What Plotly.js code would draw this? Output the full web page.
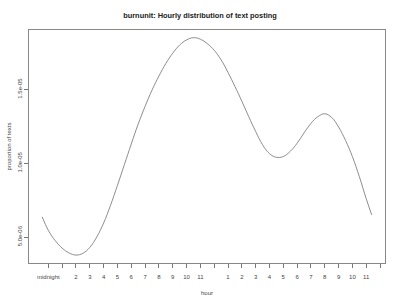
<!DOCTYPE html>
<html>
<head>
<meta charset="utf-8">
<script src="https://cdn.plot.ly/plotly-3.0.1.min.js"></script>
<style>html,body{margin:0;padding:0;background:#fff;}#chart{width:400px;height:300px;}</style>
</head>
<body>
<div id="chart"></div>
<script>
const hours = [-0.45, 0, 0.5, 1, 1.5, 2, 2.5, 3, 3.5, 4, 4.5, 5, 5.5, 6, 6.5, 7, 7.5, 8, 8.5, 9, 9.5, 10, 10.5, 11, 11.5, 12, 12.5, 13, 13.5, 14, 14.5, 15, 15.5, 16, 16.5, 17, 17.5, 18, 18.5, 19, 19.5, 20, 20.5, 21, 21.5, 22, 22.5, 23, 23.4];
const proportion = [6.37e-6, 5.45e-6, 4.75e-6, 4.25e-6, 3.92e-6, 3.78e-6, 3.9e-6, 4.3e-6, 5.0e-6, 5.95e-6, 7.15e-6, 8.5e-6, 9.9e-6, 11.3e-6, 12.65e-6, 13.85e-6, 14.95e-6, 15.9e-6, 16.75e-6, 17.45e-6, 18.0e-6, 18.35e-6, 18.5e-6, 18.4e-6, 18.1e-6, 17.65e-6, 17.0e-6, 16.15e-6, 15.2e-6, 14.2e-6, 13.15e-6, 12.15e-6, 11.25e-6, 10.65e-6, 10.4e-6, 10.45e-6, 10.8e-6, 11.35e-6, 12.05e-6, 12.7e-6, 13.15e-6, 13.35e-6, 13.1e-6, 12.45e-6, 11.55e-6, 10.45e-6, 9.1e-6, 7.6e-6, 6.5e-6];
const xTickVals = [0, 1, 2, 3, 4, 5, 6, 7, 8, 9, 10, 11, 12, 13, 14, 15, 16, 17, 18, 19, 20, 21, 22, 23, 24];
const xTickText = ["midnight", "", "2", "3", "4", "5", "6", "7", "8", "9", "10", "11", "", "1", "2", "3", "4", "5", "6", "7", "8", "9", "10", "11", ""];
const yTickVals = [5e-6, 1e-5, 1.5e-5];
const yTickText = ["5.0e-06", "1.0e-05", "1.5e-05"];

const font = "Liberation Sans, Arial, Helvetica, sans-serif";
const trace = {
  x: hours, y: proportion, type: 'scatter', mode: 'lines',
  line: {color: '#808080', width: 0.9, shape: 'spline', smoothing: 1.1},
  hoverinfo: 'skip'
};
const layout = {
  width: 400, height: 300,
  margin: {l: 29, r: 15, t: 29.5, b: 37, pad: 0},
  paper_bgcolor: '#fff', plot_bgcolor: '#fff',
  showlegend: false,
  font: {family: font, size: 6, color: '#444'},
  title: {text: 'burnunit: Hourly distribution of text posting', font: {family: font, size: 7.4, color: '#222', weight: 'bold'}, x: 0.5, xanchor: 'center', y: 0.95, yanchor: 'middle'},
  xaxis: {
    range: [-1.40, 24.36], tickmode: 'array', tickvals: xTickVals, ticktext: xTickText,
    ticks: 'outside', ticklen: 3.6, tickcolor: '#777', tickwidth: 1, ticklabelstandoff: 4,
    showgrid: false, zeroline: false, showline: true, linecolor: '#888', linewidth: 1, mirror: true,
    tickfont: {family: font, size: 6, color: '#444'},
    title: {text: 'hour', font: {family: font, size: 6, color: '#444'}, standoff: 12}
  },
  yaxis: {
    range: [3.243e-6, 1.902e-5], tickmode: 'array', tickvals: yTickVals, ticktext: yTickText,
    tickangle: -90,
    ticks: 'outside', ticklen: 3.6, tickcolor: '#777', tickwidth: 1,
    showgrid: false, zeroline: false, showline: true, linecolor: '#888', linewidth: 1, mirror: true,
    tickfont: {family: font, size: 6, color: '#444'},
    title: {text: 'proportion of texts', font: {family: font, size: 6, color: '#444'}, standoff: 4}
  }
};
Plotly.newPlot('chart', [trace], layout, {staticPlot: true, displayModeBar: false});
</script>
</body>
</html>
